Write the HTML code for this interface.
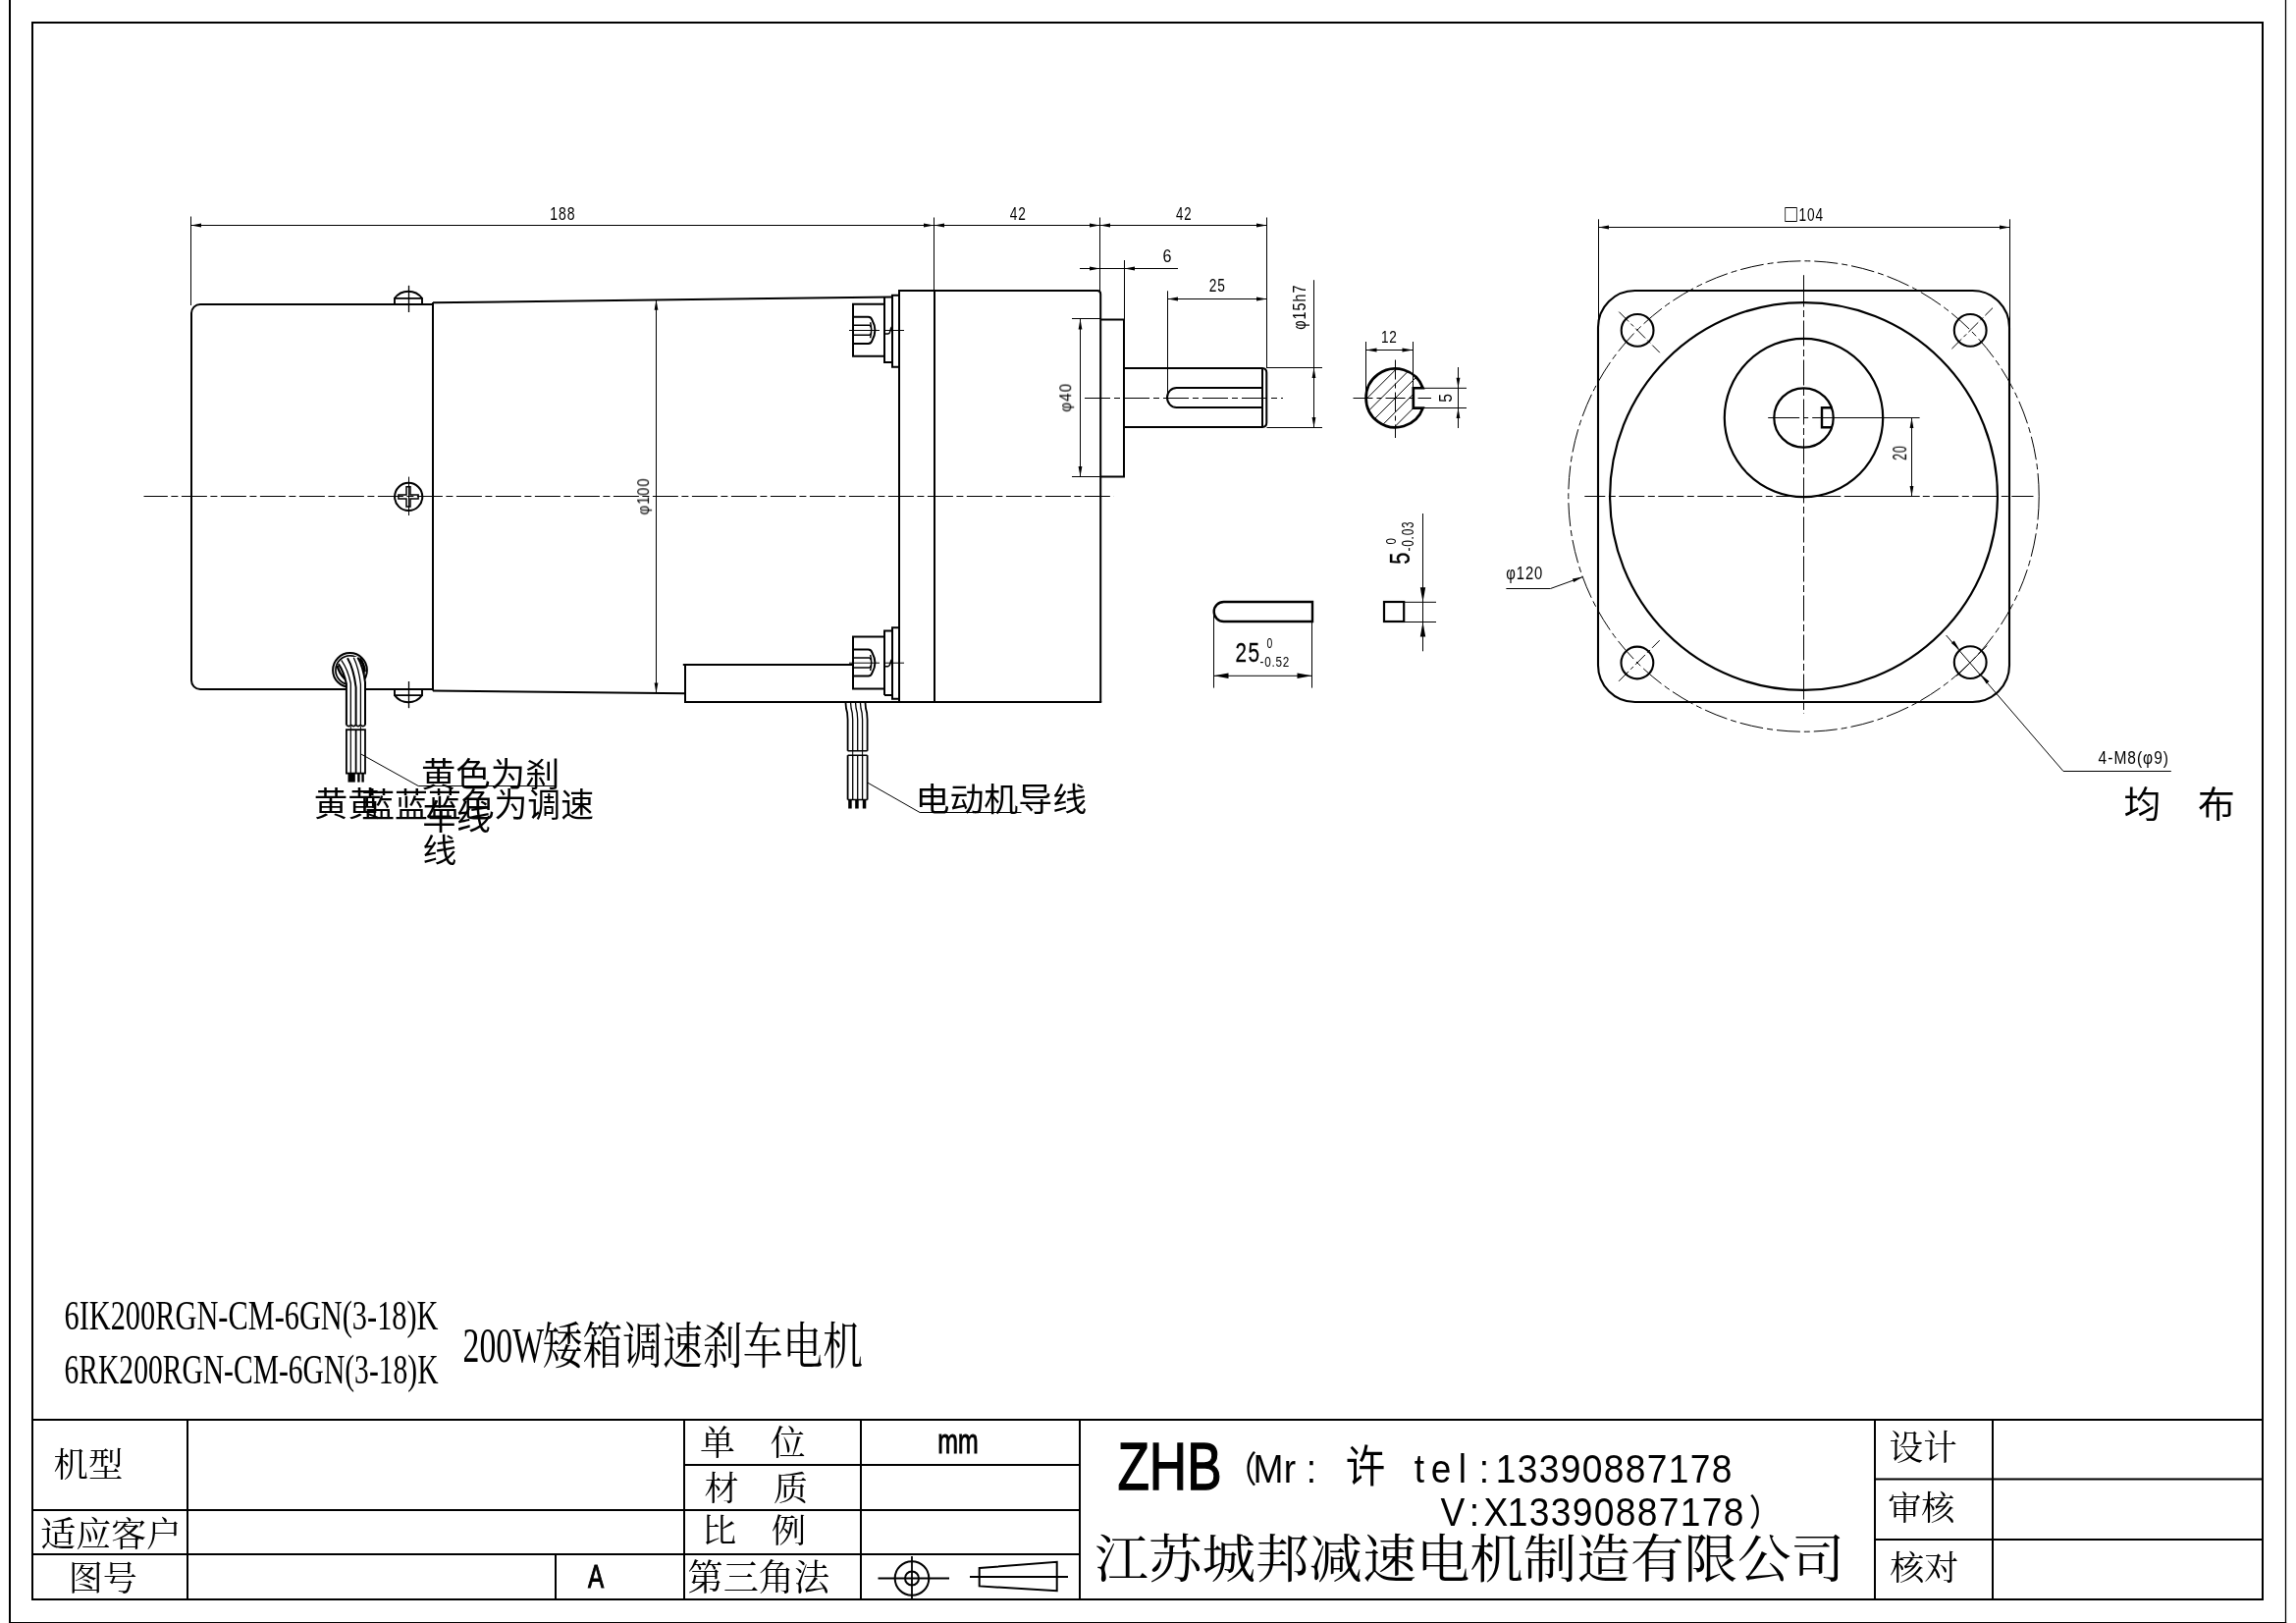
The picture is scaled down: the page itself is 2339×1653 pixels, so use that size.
<!DOCTYPE html>
<html lang="zh-CN">
<head>
<meta charset="utf-8">
<title>200W矮箱调速刹车电机 6IK200RGN-CM-6GN(3-18)K</title>
<style>
html,body{margin:0;padding:0;background:#fff}
svg{display:block}
.k{stroke:#000;stroke-width:2;fill:none}
.m{stroke:#000;stroke-width:1.5;fill:none}
.t{stroke:#000;stroke-width:1;fill:none}
.f{fill:#000;stroke:none}
.w{fill:#fff;stroke:none}
.c{stroke:#000;stroke-width:1;fill:none;stroke-dasharray:26 3.5 7 3.5}
.c2{stroke:#000;stroke-width:1;fill:none;stroke-dasharray:26 4 6 4}
.c3{stroke:#000;stroke-width:1;fill:none;stroke-dasharray:20 4 5 4}
.c4{stroke:#000;stroke-width:1;fill:none;stroke-dasharray:24 4 6 4}
.c5{stroke:#000;stroke-width:1;fill:none;stroke-dasharray:14 3 4 3}
.c6{stroke:#000;stroke-width:1;fill:none;stroke-dasharray:32 4 5 4 400}
text{fill:#000;white-space:pre}
</style>
</head>
<body>
<svg width="2339" height="1653" viewBox="0 0 2339 1653">
<rect x="0" y="0" width="2339" height="1653" fill="#fff"/>
<g id="frame">
<line class="k" x1="10" y1="-2" x2="10" y2="1655"/>
<line class="t" x1="2328.5" y1="-2" x2="2328.5" y2="1655" style="stroke-width:1.3"/>
<line class="t" x1="9" y1="1652.6" x2="2329.2" y2="1652.6" style="stroke-width:1.4"/>
<rect class="k" x="33" y="23" width="2272" height="1606"/>
<line class="k" x1="33" y1="1446" x2="2305" y2="1446"/>
<line class="k" x1="191" y1="1446" x2="191" y2="1629"/>
<line class="k" x1="566" y1="1583" x2="566" y2="1629"/>
<line class="k" x1="697" y1="1446" x2="697" y2="1629"/>
<line class="k" x1="877" y1="1446" x2="877" y2="1629"/>
<line class="k" x1="1100" y1="1446" x2="1100" y2="1629"/>
<line class="k" x1="1910" y1="1446" x2="1910" y2="1629"/>
<line class="k" x1="2030" y1="1446" x2="2030" y2="1629"/>
<line class="k" x1="33" y1="1538" x2="1100" y2="1538"/>
<line class="k" x1="33" y1="1583" x2="1100" y2="1583"/>
<line class="k" x1="697" y1="1492" x2="1100" y2="1492"/>
<line class="k" x1="1910" y1="1506.5" x2="2305" y2="1506.5"/>
<line class="k" x1="1910" y1="1568" x2="2305" y2="1568"/>
<circle class="k" cx="929" cy="1607.5" r="17.3"/>
<circle class="k" cx="929" cy="1607.5" r="7"/>
<line class="m" x1="894.5" y1="1607.5" x2="967" y2="1607.5" style="stroke-width:1.8"/>
<line class="m" x1="929" y1="1585" x2="929" y2="1628" style="stroke-width:1.8"/>
<path class="k" d="M997.7,1597 L1076.7,1590.8 V1620.3 L997.7,1615.4 Z"/>
<line class="m" x1="988" y1="1606" x2="1088" y2="1606" style="stroke-width:1.8"/>
</g>
<g id="side">
<path class="k" d="M441,310 H204 A9,9 0 0 0 195,319 V693 A9,9 0 0 0 204,702 H441"/>
<line class="k" x1="441" y1="308" x2="441" y2="703.6"/>
<line class="k" x1="441" y1="308.3" x2="908.4" y2="302.4"/>
<line class="k" x1="441" y1="703.4" x2="698" y2="706.3"/>
<path class="k" d="M695.8,677 H869 M698,677 V715"/>
<path class="k" d="M916,715 V296 H1118 Q1121.2,296 1121.2,299.5 V715"/>
<line class="k" x1="697" y1="715" x2="1122.2" y2="715"/>
<line class="k" x1="952" y1="296" x2="952" y2="715"/>
<path class="k" d="M901,302.9 V369 H908.6"/>
<path class="k" d="M916,300.7 H909 V373.8 H916"/>
<path class="k" d="M901,708 V642.5 H908.6"/>
<path class="k" d="M916,639.3 H909 V711.8 H916"/>
<path class="k" d="M901,708 H909"/>
<path class="k" d="M901,309.8 H869 V362.8 H901"/>
<path class="k" d="M869,322.7 H884.5 Q887.6,322.7 888.6,326.2 Q891.4,331.3 891.4,336.3 Q891.4,341.3 888.6,346.40000000000003 Q887.6,349.90000000000003 884.5,349.90000000000003 H869"/>
<path class="m" d="M869,331.3 H886 M869,341.3 H886"/>
<path class="m" d="M886.2,331.1 Q889.4,336.3 886.2,341.5 M886.6,328.3 Q888.8,336.3 886.6,344.3"/>
<line class="t" x1="865" y1="336.5" x2="896" y2="336.5"/>
<line class="t" x1="902" y1="336.5" x2="921" y2="336.5"/>
<path class="m" d="M902,340.1 H904.6 Q906.4,339.7 907,336.8 Q907.4,334.1 908.6,332.90000000000003"/>
<path class="k" d="M901,648.5 H869 V701.5 H901"/>
<path class="k" d="M869,661.4 H884.5 Q887.6,661.4 888.6,664.9 Q891.4,670.0 891.4,675.0 Q891.4,680.0 888.6,685.1 Q887.6,688.6 884.5,688.6 H869"/>
<path class="m" d="M869,670.0 H886 M869,680.0 H886"/>
<path class="m" d="M886.2,669.8 Q889.4,675.0 886.2,680.2 M886.6,667.0 Q888.8,675.0 886.6,683.0"/>
<line class="t" x1="865" y1="675.2" x2="896" y2="675.2"/>
<line class="t" x1="902" y1="675.2" x2="921" y2="675.2"/>
<path class="m" d="M902,678.8 H904.6 Q906.4,678.4 907,675.5 Q907.4,672.8 908.6,671.6"/>
<path class="k" d="M1121.2,325.5 H1145 V485.5 H1121.2"/>
<path class="k" d="M1145,375 H1286 Q1290.3,375.4 1290.3,379.5 V430.5 Q1290.3,434.6 1286,435 H1145"/>
<line class="k" x1="1286" y1="375" x2="1286" y2="435"/>
<path class="k" d="M1286,395 H1198.6 A9.6,10 0 0 0 1198.6,415 H1286"/>
<path class="k" d="M402,310 V303.9 H430 V310 M402,303.9 A17.35,17.35 0 0 1 430,303.9" style="stroke-width:1.9"/>
<line class="t" x1="416.5" y1="290.8" x2="416.5" y2="318" style="stroke-width:1.3"/>
<path class="k" d="M402,702 V708.1 H430 V702 M402,708.1 A17.35,17.35 0 0 0 430,708.1" style="stroke-width:1.9"/>
<line class="t" x1="416.5" y1="694" x2="416.5" y2="721.2" style="stroke-width:1.3"/>
<circle class="k" cx="416.2" cy="505.9" r="14.1"/>
<path class="m" d="M414,495.8 h4 v8.1 h8.1 v4 h-8.1 v8.1 h-4 v-8.1 h-8.1 v-4 h8.1 z"/>
<line class="t" x1="416.5" y1="485.6" x2="416.5" y2="525"/>
<line class="c" x1="146.5" y1="505.5" x2="1134.5" y2="505.5" stroke-dashoffset="1.6"/>
<line class="c2" x1="1105" y1="405.5" x2="1307" y2="405.5"/>
</g>
<g id="cable1">
<circle class="m" cx="356.5" cy="682.5" r="17.4" style="stroke-width:2"/>
<circle class="m" cx="356.5" cy="682.5" r="14.6" style="stroke-width:1.7"/>
<path class="w" d="M344.8,676.1 L347.7,672.4 L354,668.8 L364.4,669 L368.8,679 L370.7,686.4 L372,694 V738.4 H352.9 V695.7 L350.7,687.5 Z"/>
<path class="m" d="M344.8,676.1 Q350.2,684 352.9,696.5 V738.4" style="stroke-width:2.0"/>
<path class="m" d="M347.7,672.4 Q354.5,682 357.3,696 V738.4" style="stroke-width:1.3"/>
<path class="m" d="M354,670.2 Q360.3,681 362.6,700 V738.4" style="stroke-width:2.0"/>
<path class="m" d="M360.3,669.8 Q365.6,681 367.4,697 V738.4" style="stroke-width:1.3"/>
<path class="m" d="M364.4,669.8 Q370,679 372,695 V738.4" style="stroke-width:2.0"/>
<path class="m" d="M343.6,678 Q345.5,686 351.5,691.5" style="stroke-width:2.4"/>
<path class="m" d="M366.5,670.5 Q371,676 371.6,684" style="stroke-width:2.6"/>
<path class="m" d="M352.9,738.4 q2.4,2.4 4.8,0 q2.4,2.4 4.8,0 q2.4,2.4 4.8,0 q2.4,2.4 4.7,0" style="stroke-width:1.6"/>
<rect class="m" x="352.9" y="743.2" width="19.1" height="44.4" style="stroke-width:1.8"/>
<line class="t" x1="357.3" y1="743.2" x2="357.3" y2="787.6" style="stroke-width:1.2"/>
<line class="t" x1="362.6" y1="743.2" x2="362.6" y2="787.6" style="stroke-width:1.8"/>
<line class="t" x1="367.4" y1="743.2" x2="367.4" y2="787.6" style="stroke-width:1.2"/>
<path class="t" d="M357.3,743.2 V739.8 M367.4,743.2 V739.8"/>
<rect class="f" x="354.5" y="787.6" width="7.3" height="9"/>
<rect class="f" x="364.2" y="787.6" width="2.4" height="9"/>
<rect class="f" x="368.4" y="787.6" width="2.4" height="9"/>
</g>
<g id="cable2">
<path class="m" d="M861.4,715 L862.0,721.5 L863.1,726 L863.6,733 V764.8" style="stroke-width:1.8"/>
<line class="m" x1="863.6" y1="769.2" x2="863.6" y2="814.5" style="stroke-width:1.8"/>
<path class="m" d="M866.5,715 L867.1,721.5 L868.2,726 L868.7,733 V764.8" style="stroke-width:1.3"/>
<line class="m" x1="868.7" y1="769.2" x2="868.7" y2="814.5" style="stroke-width:1.3"/>
<path class="m" d="M871.5,715 L872.1,721.5 L873.2,726 L873.7,733 V764.8" style="stroke-width:1.3"/>
<line class="m" x1="873.7" y1="769.2" x2="873.7" y2="814.5" style="stroke-width:1.3"/>
<path class="m" d="M876.4,715 L877.0,721.5 L878.1,726 L878.6,733 V764.8" style="stroke-width:1.3"/>
<line class="m" x1="878.6" y1="769.2" x2="878.6" y2="814.5" style="stroke-width:1.3"/>
<path class="m" d="M881.4,715 L882.0,721.5 L883.1,726 L883.6,733 V764.8" style="stroke-width:1.8"/>
<line class="m" x1="883.6" y1="769.2" x2="883.6" y2="814.5" style="stroke-width:1.8"/>
<path class="m" d="M863.6,764.8 H883.6 M863.6,769.2 H883.6 M863.6,814.5 H883.6"/>
<path class="t" d="M868.7,764.8 V769.2 M878.6,764.8 V769.2"/>
<rect class="f" x="864.2" y="814.5" width="3.5" height="9"/>
<rect class="f" x="871.2" y="814.5" width="3.5" height="9"/>
<rect class="f" x="878.8" y="814.5" width="3.5" height="9"/>
</g>
<g id="dims">
<line class="t" x1="194.5" y1="220.5" x2="194.5" y2="311"/>
<line class="t" x1="951.5" y1="221.5" x2="951.5" y2="296"/>
<line class="t" x1="1120.5" y1="221.5" x2="1120.5" y2="296"/>
<line class="t" x1="1290.5" y1="221.5" x2="1290.5" y2="375"/>
<line class="t" x1="194.5" y1="229.5" x2="1290.5" y2="229.5"/>
<polygon class="f" points="194.50,229.50 205.00,231.40 205.00,227.60"/>
<polygon class="f" points="951.50,229.50 941.00,227.60 941.00,231.40"/>
<polygon class="f" points="951.50,229.50 962.00,231.40 962.00,227.60"/>
<polygon class="f" points="1120.50,229.50 1110.00,227.60 1110.00,231.40"/>
<polygon class="f" points="1120.50,229.50 1131.00,231.40 1131.00,227.60"/>
<polygon class="f" points="1290.50,229.50 1280.00,227.60 1280.00,231.40"/>
<line class="t" x1="1100" y1="273.5" x2="1200" y2="273.5"/>
<line class="t" x1="1145.5" y1="265" x2="1145.5" y2="326"/>
<polygon class="f" points="1120.50,273.50 1110.00,271.60 1110.00,275.40"/>
<polygon class="f" points="1145.50,273.50 1156.00,275.40 1156.00,271.60"/>
<line class="t" x1="1189.5" y1="296.3" x2="1189.5" y2="405.3"/>
<line class="t" x1="1189.5" y1="304.5" x2="1290.5" y2="304.5"/>
<polygon class="f" points="1189.50,304.50 1200.00,306.40 1200.00,302.60"/>
<polygon class="f" points="1290.50,304.50 1280.00,302.60 1280.00,306.40"/>
<line class="t" x1="668.5" y1="305" x2="668.5" y2="706"/>
<polygon class="f" points="668.50,305.20 666.60,315.70 670.40,315.70"/>
<polygon class="f" points="668.50,706.00 670.40,695.50 666.60,695.50"/>
<line class="t" x1="1092" y1="324.5" x2="1121" y2="324.5"/>
<line class="t" x1="1092" y1="485.5" x2="1121" y2="485.5"/>
<line class="t" x1="1100.5" y1="325" x2="1100.5" y2="485.5"/>
<polygon class="f" points="1100.50,325.00 1098.60,335.50 1102.40,335.50"/>
<polygon class="f" points="1100.50,485.50 1102.40,475.00 1098.60,475.00"/>
<line class="t" x1="1290.5" y1="374.5" x2="1347" y2="374.5"/>
<line class="t" x1="1290.5" y1="435.5" x2="1347" y2="435.5"/>
<line class="t" x1="1338.5" y1="285.2" x2="1338.5" y2="435.5"/>
<polygon class="f" points="1338.50,374.50 1336.60,385.00 1340.40,385.00"/>
<polygon class="f" points="1338.50,435.50 1340.40,425.00 1336.60,425.00"/>
</g>
<g id="section">
<clipPath id="cs"><path d="M1449.62,395.25 A29.9,29.9 0 1 0 1449.62,415.54999999999995 H1439.8 V395.25 Z"/></clipPath>
<g clip-path="url(#cs)">
<line class="t" x1="1338.3" y1="460" x2="1448.3" y2="350"/>
<line class="t" x1="1352.6" y1="460" x2="1462.6" y2="350"/>
<line class="t" x1="1366.9" y1="460" x2="1476.9" y2="350"/>
<line class="t" x1="1381.2" y1="460" x2="1491.2" y2="350"/>
<line class="t" x1="1395.5" y1="460" x2="1505.5" y2="350"/>
</g>
<path class="k" d="M1449.62,395.25 A29.9,29.9 0 1 0 1449.62,415.54999999999995 H1439.8 V395.25 Z" style="stroke-width:2.7"/>
<line class="c3" x1="1421.5" y1="366.5" x2="1421.5" y2="446"/>
<line class="c3" x1="1378.5" y1="405.5" x2="1458" y2="405.5"/>
<line class="t" x1="1391.5" y1="348" x2="1391.5" y2="405"/>
<line class="t" x1="1439.5" y1="348" x2="1439.5" y2="395"/>
<line class="t" x1="1391.5" y1="356.5" x2="1439.5" y2="356.5"/>
<polygon class="f" points="1391.50,356.50 1402.50,358.40 1402.50,354.60"/>
<polygon class="f" points="1439.50,356.50 1428.50,354.60 1428.50,358.40"/>
<line class="t" x1="1450" y1="395.3" x2="1494" y2="395.3"/>
<line class="t" x1="1450" y1="415.5" x2="1494" y2="415.5"/>
<line class="t" x1="1485.5" y1="374" x2="1485.5" y2="436"/>
<polygon class="f" points="1485.50,395.30 1487.40,384.80 1483.60,384.80"/>
<polygon class="f" points="1485.50,415.50 1483.60,426.00 1487.40,426.00"/>
</g>
<g id="key">
<path class="k" d="M1337,613 H1246.7 A10,10 0 0 0 1246.7,633 H1337 Z" style="stroke-width:2.4"/>
<line class="t" x1="1236.5" y1="623" x2="1236.5" y2="700.6"/>
<line class="t" x1="1336.5" y1="633" x2="1336.5" y2="700.6"/>
<line class="t" x1="1236.5" y1="688.3" x2="1336.5" y2="688.3"/>
<polygon class="f" points="1236.50,688.30 1251.50,691.00 1251.50,685.60"/>
<polygon class="f" points="1336.50,688.30 1321.50,685.60 1321.50,691.00"/>
<rect class="k" x="1410" y="613" width="20.2" height="20" style="stroke-width:2.2"/>
<line class="t" x1="1430" y1="613.3" x2="1463" y2="613.3"/>
<line class="t" x1="1430" y1="633.5" x2="1463" y2="633.5"/>
<line class="t" x1="1449.5" y1="523" x2="1449.5" y2="663.3"/>
<polygon class="f" points="1449.50,613.30 1452.20,598.30 1446.80,598.30"/>
<polygon class="f" points="1449.50,633.50 1446.80,648.50 1452.20,648.50"/>
</g>
<g id="front">
<path class="k" d="M1665.5,296 H2009.5 A37.5,37.5 0 0 1 2047,333.5 V677.5 A37.5,37.5 0 0 1 2009.5,715 H1665.5 A37.5,37.5 0 0 1 1628,677.5 V333.5 A37.5,37.5 0 0 1 1665.5,296 Z" style="stroke-width:2.1"/>
<circle class="k" cx="1837.5" cy="505.5" r="197.4" style="stroke-width:2.2"/>
<circle class="k" cx="1837.5" cy="425.5" r="80.7" style="stroke-width:2.2"/>
<circle class="k" cx="1837.5" cy="425.5" r="30.2" style="stroke-width:2.2"/>
<path class="k" d="M1866.5,415.2 H1856 V435.2 H1866.5" style="stroke-width:2.4"/>
<circle class="c4" cx="1837.5" cy="505.5" r="239.7"/>
<circle class="k" cx="1668.1" cy="336.4" r="16.4" style="stroke-width:2.1"/>
<line class="c5" x1="1649.3" y1="317.6" x2="1690.9" y2="359.2"/>
<circle class="k" cx="2007.2" cy="336.4" r="16.4" style="stroke-width:2.1"/>
<line class="c5" x1="1988.4" y1="355.2" x2="2030.0" y2="313.6"/>
<circle class="k" cx="1667.9" cy="675" r="16.4" style="stroke-width:2.1"/>
<line class="c5" x1="1649.1" y1="693.8" x2="1690.7" y2="652.2"/>
<circle class="k" cx="2007.2" cy="674.6" r="16.4" style="stroke-width:2.1"/>
<line class="t" x1="1837.5" y1="280.2" x2="1837.5" y2="288"/>
<line class="c" x1="1837.5" y1="286.5" x2="1837.5" y2="727"/>
<line class="c" x1="1614.3" y1="505.5" x2="2071.5" y2="505.5" stroke-dashoffset="5"/>
<line class="t" x1="1880" y1="505.5" x2="1955.6" y2="505.5"/>
<line class="c6" x1="1801.2" y1="425.5" x2="1955.6" y2="425.5"/>
<line class="t" x1="1628.5" y1="223.3" x2="1628.5" y2="336"/>
<line class="t" x1="2047.5" y1="223.3" x2="2047.5" y2="336"/>
<line class="t" x1="1628.5" y1="231.5" x2="2047.5" y2="231.5"/>
<polygon class="f" points="1628.50,231.50 1639.00,233.40 1639.00,229.60"/>
<polygon class="f" points="2047.50,231.50 2037.00,229.60 2037.00,233.40"/>
<line class="t" x1="1947.5" y1="425.5" x2="1947.5" y2="505.5"/>
<polygon class="f" points="1947.50,425.50 1945.60,436.00 1949.40,436.00"/>
<polygon class="f" points="1947.50,505.50 1949.40,495.00 1945.60,495.00"/>
<path class="t" d="M1534.4,599.5 H1579.5 L1612.4,587.6"/>
<polygon class="f" points="1612.40,587.60 1601.88,589.38 1603.17,592.96"/>
<path class="t" d="M1982.6,647 L2102,785.5 H2211.8"/>
<polygon class="f" points="1996.49,662.18 1990.75,652.61 1987.87,655.09"/>
<polygon class="f" points="2017.91,687.02 2023.65,696.59 2026.53,694.11"/>
<path class="t" d="M1993.2,688.6 L2024.2,657.6"/>
</g>
<g id="leaders">
<path class="t" d="M368.1,768.2 L426.2,800.5 H566.5"/>
<path class="t" d="M883.6,797 L937.1,827.5 H1040.5"/>
</g>
<g id="texts" style="opacity:0.999">
<text transform="translate(560.37 223.72) scale(0.7627 1)" font-size="18.45" style="font-family:'Liberation Sans', 'DejaVu Sans', sans-serif;font-weight:400;letter-spacing:0.064em">188</text>
<text transform="translate(1028.73 223.90) scale(0.7317 1)" font-size="18.71" style="font-family:'Liberation Sans', 'DejaVu Sans', sans-serif;font-weight:400;letter-spacing:0.064em">42</text>
<text transform="translate(1198.04 223.80) scale(0.7077 1)" font-size="18.71" style="font-family:'Liberation Sans', 'DejaVu Sans', sans-serif;font-weight:400;letter-spacing:0.064em">42</text>
<text transform="translate(1184.60 267.12) scale(0.9065 1)" font-size="17.75" style="font-family:'Liberation Sans', 'DejaVu Sans', sans-serif;font-weight:400;letter-spacing:0.064em">6</text>
<text transform="translate(1231.81 297.42) scale(0.7484 1)" font-size="18.31" style="font-family:'Liberation Sans', 'DejaVu Sans', sans-serif;font-weight:400;letter-spacing:0.064em">25</text>
<text transform="translate(1406.91 349.00) scale(0.7944 1)" font-size="17.14" style="font-family:'Liberation Sans', 'DejaVu Sans', sans-serif;font-weight:400;letter-spacing:0.064em">12</text>
<text transform="translate(1818.20 225.50) scale(0.8289 1)" font-size="25.33" style="font-family:'Liberation Sans', 'DejaVu Sans', sans-serif;font-weight:400;letter-spacing:0.064em">□</text><text transform="translate(1832.51 224.62) scale(0.7465 1)" font-size="18.31" style="font-family:'Liberation Sans', 'DejaVu Sans', sans-serif;font-weight:400;letter-spacing:0.064em">104</text>
<text transform="translate(1534.21 589.74) scale(0.8271 1)" font-size="17.91" style="font-family:'Liberation Sans', 'DejaVu Sans', sans-serif;font-weight:400;letter-spacing:0.064em">φ120</text>
<text transform="translate(2137.59 777.68) scale(0.8537 1)" font-size="18.19" style="font-family:'Liberation Sans', 'DejaVu Sans', sans-serif;font-weight:400;letter-spacing:0.064em">4-M8(φ9)</text>
<text transform="translate(661.12 524.39) rotate(-90) scale(0.9441 1)" font-size="15.60" style="font-family:'Liberation Sans', 'DejaVu Sans', sans-serif;font-weight:400;letter-spacing:0.064em">φ100</text>
<text transform="translate(1091.23 419.61) rotate(-90) scale(0.9470 1)" font-size="16.04" style="font-family:'Liberation Sans', 'DejaVu Sans', sans-serif;font-weight:400;letter-spacing:0.064em">φ40</text>
<text transform="translate(1329.94 335.68) rotate(-90) scale(0.8258 1)" font-size="17.45" style="font-family:'Liberation Sans', 'DejaVu Sans', sans-serif;font-weight:400;letter-spacing:0.064em">φ15h7</text>
<text transform="translate(1479.11 409.63) rotate(-90) scale(0.8478 1)" font-size="18.57" style="font-family:'Liberation Sans', 'DejaVu Sans', sans-serif;font-weight:400;letter-spacing:0.064em">5</text>
<text transform="translate(1942.10 468.82) rotate(-90) scale(0.6065 1)" font-size="20.42" style="font-family:'Liberation Sans', 'DejaVu Sans', sans-serif;font-weight:400;letter-spacing:0.064em">20</text>
<text transform="translate(1436.20 574.77) rotate(-90) scale(0.7234 1)" font-size="30.00" style="font-family:'Liberation Sans', 'DejaVu Sans', sans-serif;font-weight:400;letter-spacing:0.064em;stroke:#000;stroke-width:0.3">5</text>
<text transform="translate(1422.15 554.46) rotate(-90) scale(0.7533 1)" font-size="15.21" style="font-family:'Liberation Sans', 'DejaVu Sans', sans-serif;font-weight:400;letter-spacing:0.064em">0</text>
<text transform="translate(1440.44 561.48) rotate(-90) scale(0.7270 1)" font-size="16.34" style="font-family:'Liberation Sans', 'DejaVu Sans', sans-serif;font-weight:400;letter-spacing:0.064em">-0.03</text>
<text transform="translate(1258.56 673.92) scale(0.7475 1)" font-size="27.75" style="font-family:'Liberation Sans', 'DejaVu Sans', sans-serif;font-weight:400;letter-spacing:0.064em;stroke:#000;stroke-width:0.3">25</text>
<text transform="translate(1290.58 659.86) scale(0.7251 1)" font-size="14.37" style="font-family:'Liberation Sans', 'DejaVu Sans', sans-serif;font-weight:400;letter-spacing:0.064em">0</text>
<text transform="translate(1283.53 678.55) scale(0.7657 1)" font-size="15.35" style="font-family:'Liberation Sans', 'DejaVu Sans', sans-serif;font-weight:400;letter-spacing:0.064em">-0.52</text>
<text transform="translate(429.03 800.86) scale(1.0478 1)" font-size="33.72" style="font-family:'Liberation Sans', 'Noto Sans CJK SC', sans-serif;font-weight:400">黄色为刹</text><text transform="translate(430.11 844.66) scale(0.9985 1)" font-size="34.89" style="font-family:'Liberation Sans', 'Noto Sans CJK SC', sans-serif;font-weight:400">车线</text>
<text transform="translate(430.46 878.13) scale(1.0451 1)" font-size="33.33" style="font-family:'Liberation Sans', 'Noto Sans CJK SC', sans-serif;font-weight:400">线</text>
<text transform="translate(319.78 831.23) scale(1.0095 1)" font-size="34.15" style="font-family:'Liberation Sans', 'Noto Sans CJK SC', sans-serif;font-weight:400">黄黄</text>
<text transform="translate(368.31 831.54) scale(0.9798 1)" font-size="34.52" style="font-family:'Liberation Sans', 'Noto Sans CJK SC', sans-serif;font-weight:400">蓝蓝蓝色为调速</text>
<text transform="translate(932.45 826.05) scale(1.0559 1)" font-size="33.12" style="font-family:'Liberation Sans', 'Noto Sans CJK SC', sans-serif;font-weight:400">电动机导线</text>
<text transform="translate(2163.49 832.66) scale(1.0197 1)" font-size="37.10" style="font-family:'Liberation Sans', 'Noto Sans CJK SC', sans-serif;font-weight:400">均　布</text>
<text x="471.5" y="1387.1" font-size="50" textLength="82.5" lengthAdjust="spacingAndGlyphs" style="font-family:'Liberation Serif', 'Noto Serif CJK SC', serif;font-weight:400">200W</text><text transform="translate(552.57 1389.00) scale(0.7976 1)" font-size="51.20" style="font-family:'Liberation Serif', 'Noto Serif CJK SC', serif;font-weight:400">矮箱调速刹车电机</text>
<text transform="translate(54.58 1504.28) scale(1.0410 1)" font-size="34.02" style="font-family:'Liberation Serif', 'Noto Serif CJK SC', serif;font-weight:400">机型</text>
<text transform="translate(41.26 1574.69) scale(1.0221 1)" font-size="35.16" style="font-family:'Liberation Serif', 'Noto Serif CJK SC', serif;font-weight:400">适应客户</text>
<text transform="translate(69.74 1620.19) scale(0.9976 1)" font-size="35.16" style="font-family:'Liberation Serif', 'Noto Serif CJK SC', serif;font-weight:400">图号</text>
<text transform="translate(713.07 1481.86) scale(1.0286 1)" font-size="34.84" style="font-family:'Liberation Serif', 'Noto Serif CJK SC', serif;font-weight:400">单　位</text>
<text transform="translate(717.54 1528.25) scale(1.0227 1)" font-size="34.41" style="font-family:'Liberation Serif', 'Noto Serif CJK SC', serif;font-weight:400">材　质</text>
<text transform="translate(714.74 1571.30) scale(1.0524 1)" font-size="33.70" style="font-family:'Liberation Serif', 'Noto Serif CJK SC', serif;font-weight:400">比　例</text>
<text transform="translate(700.55 1619.54) scale(0.9777 1)" font-size="36.96" style="font-family:'Liberation Serif', 'Noto Serif CJK SC', serif;font-weight:400">第三角法</text>
<text transform="translate(955.26 1480.40) scale(0.7172 1)" font-size="34.63" style="font-family:'Liberation Sans', 'DejaVu Sans', sans-serif;font-weight:401;stroke:#000;stroke-width:1.0">mm</text>
<text transform="translate(599.00 1617.40) scale(0.7468 1)" font-size="32.46" style="font-family:'Liberation Sans', 'DejaVu Sans', sans-serif;font-weight:401;stroke:#000;stroke-width:1.0">A</text>
<text transform="translate(1924.62 1487.22) scale(0.9943 1)" font-size="34.78" style="font-family:'Liberation Serif', 'Noto Serif CJK SC', serif;font-weight:400">设计</text>
<text transform="translate(1923.24 1547.94) scale(1.0006 1)" font-size="34.04" style="font-family:'Liberation Serif', 'Noto Serif CJK SC', serif;font-weight:400">审核</text>
<text transform="translate(1925.30 1608.94) scale(1.0296 1)" font-size="34.04" style="font-family:'Liberation Serif', 'Noto Serif CJK SC', serif;font-weight:400">核对</text>
<text transform="translate(1138.41 1517.00) scale(0.7669 1)" font-size="69.28" style="font-family:'Liberation Sans', 'DejaVu Sans', sans-serif;font-weight:401;stroke:#000;stroke-width:1.4">ZHB</text>
<text transform="translate(1115.36 1606.74) scale(1.0251 1)" font-size="53.23" style="font-family:'Liberation Serif', 'Noto Serif CJK SC', serif;font-weight:400">江苏城邦减速电机制造有限公司</text>
<text transform="scale(0.9 1)" x="1404.44 1435.56 1460.00 1484.44 1508.89 1545.56 1582.22 1606.67 1631.11 1655.56 1680.00 1704.44 1728.89 1753.33 1777.78 1802.22 1826.67 1851.11 1875.56 1900.00 1924.44 1948.89" y="1510.1" font-size="41.3" text-anchor="middle" style="font-family:'Liberation Sans', 'Noto Sans CJK SC', sans-serif;font-weight:400"><tspan font-size="37">（</tspan>Mr: <tspan font-size="45">许</tspan> tel:13390887178</text>
<text transform="scale(0.9 1)" x="1644.44 1668.89 1693.33 1717.78 1742.22 1766.67 1791.11 1815.56 1840.00 1864.44 1888.89 1913.33 1937.78 1962.22 1998.22" y="1553.7" font-size="41.3" text-anchor="middle" style="font-family:'Liberation Sans', 'Noto Sans CJK SC', sans-serif;font-weight:400">V:X13390887178<tspan font-size="37">）</tspan></text>
<text x="65.5" y="1354.3" font-size="43.2" textLength="381" lengthAdjust="spacingAndGlyphs" style="font-family:'Liberation Serif', 'Noto Serif CJK SC', serif;font-weight:400">6IK200RGN-CM-6GN(3-18)K</text>
<text x="65.5" y="1408.6" font-size="43.2" textLength="381" lengthAdjust="spacingAndGlyphs" style="font-family:'Liberation Serif', 'Noto Serif CJK SC', serif;font-weight:400">6RK200RGN-CM-6GN(3-18)K</text>

</g>
</svg>
</body>
</html>
